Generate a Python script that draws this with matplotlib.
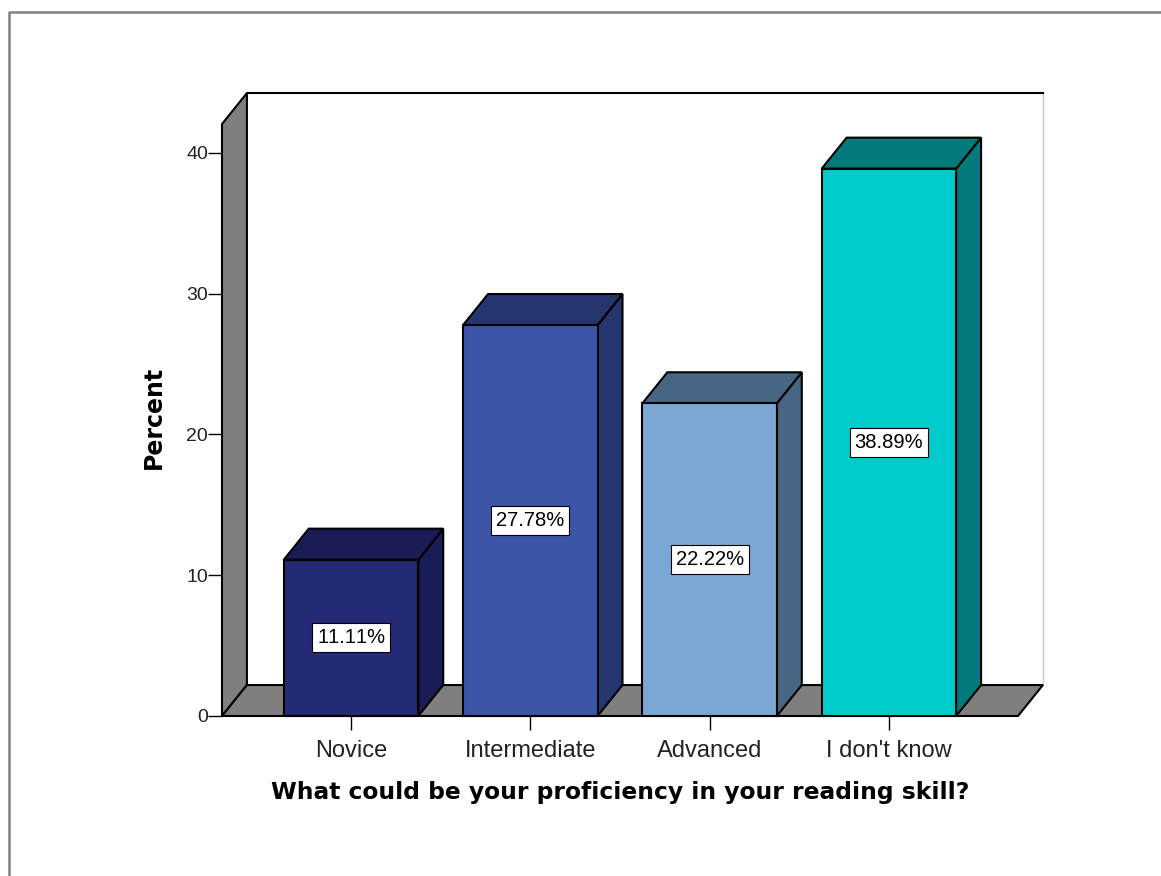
import matplotlib
matplotlib.use('Agg')
import matplotlib.pyplot as plt
from matplotlib.patches import Polygon
from matplotlib.lines import Line2D

plt.rcParams['font.family'] = ['Liberation Sans', 'DejaVu Sans']
plt.rcParams['text.kerning_factor'] = 6

categories = ['Novice', 'Intermediate', 'Advanced', "I don't know"]
percents = [11.11, 27.78, 22.22, 38.89]
labels = ['11.11%', '27.78%', '22.22%', '38.89%']
y_ticks = [0, 10, 20, 30, 40]

front_colors = ['#252a75', '#3d55a8', '#7ba7d4', '#00cccc']
dark_colors = ['#1a1c55', '#25356e', '#466684', '#007a7a']

W, H = 1161, 876
bar_w = 0.75
depth_x = 0.139  # 3d offset in data units
depth_y = 2.2

fig = plt.figure(figsize=(W / 100, H / 100), dpi=100)
ax = fig.add_axes([222 / W, 1 - 716 / H, (1018 - 222) / W, (716 - 124) / H])
ax.set_xlim(-0.72, 3.72)
ax.set_ylim(0, 42.06)
ax.patch.set_visible(False)
for s in ax.spines.values():
    s.set_visible(False)

# outer frame of the picture
fig.add_artist(Line2D([9 / W, 9 / W, 1], [0, 1 - 12 / H, 1 - 12 / H], color='#808080', lw=1.8))


def poly(pts, color, z=2, lw=1.5):
    ax.add_patch(Polygon(pts, closed=True, facecolor=color, edgecolor='black', lw=lw, zorder=z, clip_on=False))


x0, x1 = -0.72, 3.72
ytop = 42.06
# side wall and floor
poly([(x0, 0), (x0 + depth_x, depth_y), (x0 + depth_x, ytop + depth_y), (x0, ytop)], '#7f7f7f')
poly([(x0, 0), (x0 + depth_x, depth_y), (x1 + depth_x, depth_y), (x1, 0)], '#7f7f7f')
# back wall edges
ax.plot([x0 + depth_x, x1 + depth_x], [ytop + depth_y, ytop + depth_y], color='black', lw=1.5, clip_on=False, zorder=2)
ax.plot([x1 + depth_x, x1 + depth_x], [depth_y, ytop + depth_y], color='#c8c8c8', lw=1, clip_on=False, zorder=1)

for i, v in enumerate(percents):
    l, r = i - bar_w / 2, i + bar_w / 2
    poly([(r, 0), (r + depth_x, depth_y), (r + depth_x, v + depth_y), (r, v)], dark_colors[i], z=3)
    poly([(l, v), (l + depth_x, v + depth_y), (r + depth_x, v + depth_y), (r, v)], dark_colors[i], z=3)
    poly([(l, 0), (r, 0), (r, v), (l, v)], front_colors[i], z=4)
    ax.text(i, v / 2, labels[i], ha='center', va='center', fontsize=14.5, color='black', zorder=5,
            bbox=dict(boxstyle='square,pad=0.24', facecolor='white', edgecolor='black', lw=0.8))

ax.set_xticks(range(len(categories)))
ax.set_xticklabels(categories, fontsize=17, color='#222222')
ax.set_yticks(y_ticks)
ax.set_yticklabels([str(t) for t in y_ticks], fontsize=14, color='#222222')
ax.tick_params(axis='x', length=10, width=1, pad=7, zorder=6)
ax.tick_params(axis='y', length=10, width=1, pad=0)

fig.text(154 / W, 1 - 417 / H, 'Percent', rotation=90, ha='center', va='center', fontsize=17, fontweight='bold',
         family='DejaVu Sans')
fig.text(620 / W, 1 - 793 / H, 'What could be your proficiency in your reading skill?', ha='center', va='center',
         fontsize=16.8, fontweight='bold', family='DejaVu Sans')

fig.savefig('out.png', dpi=100, facecolor='white')
